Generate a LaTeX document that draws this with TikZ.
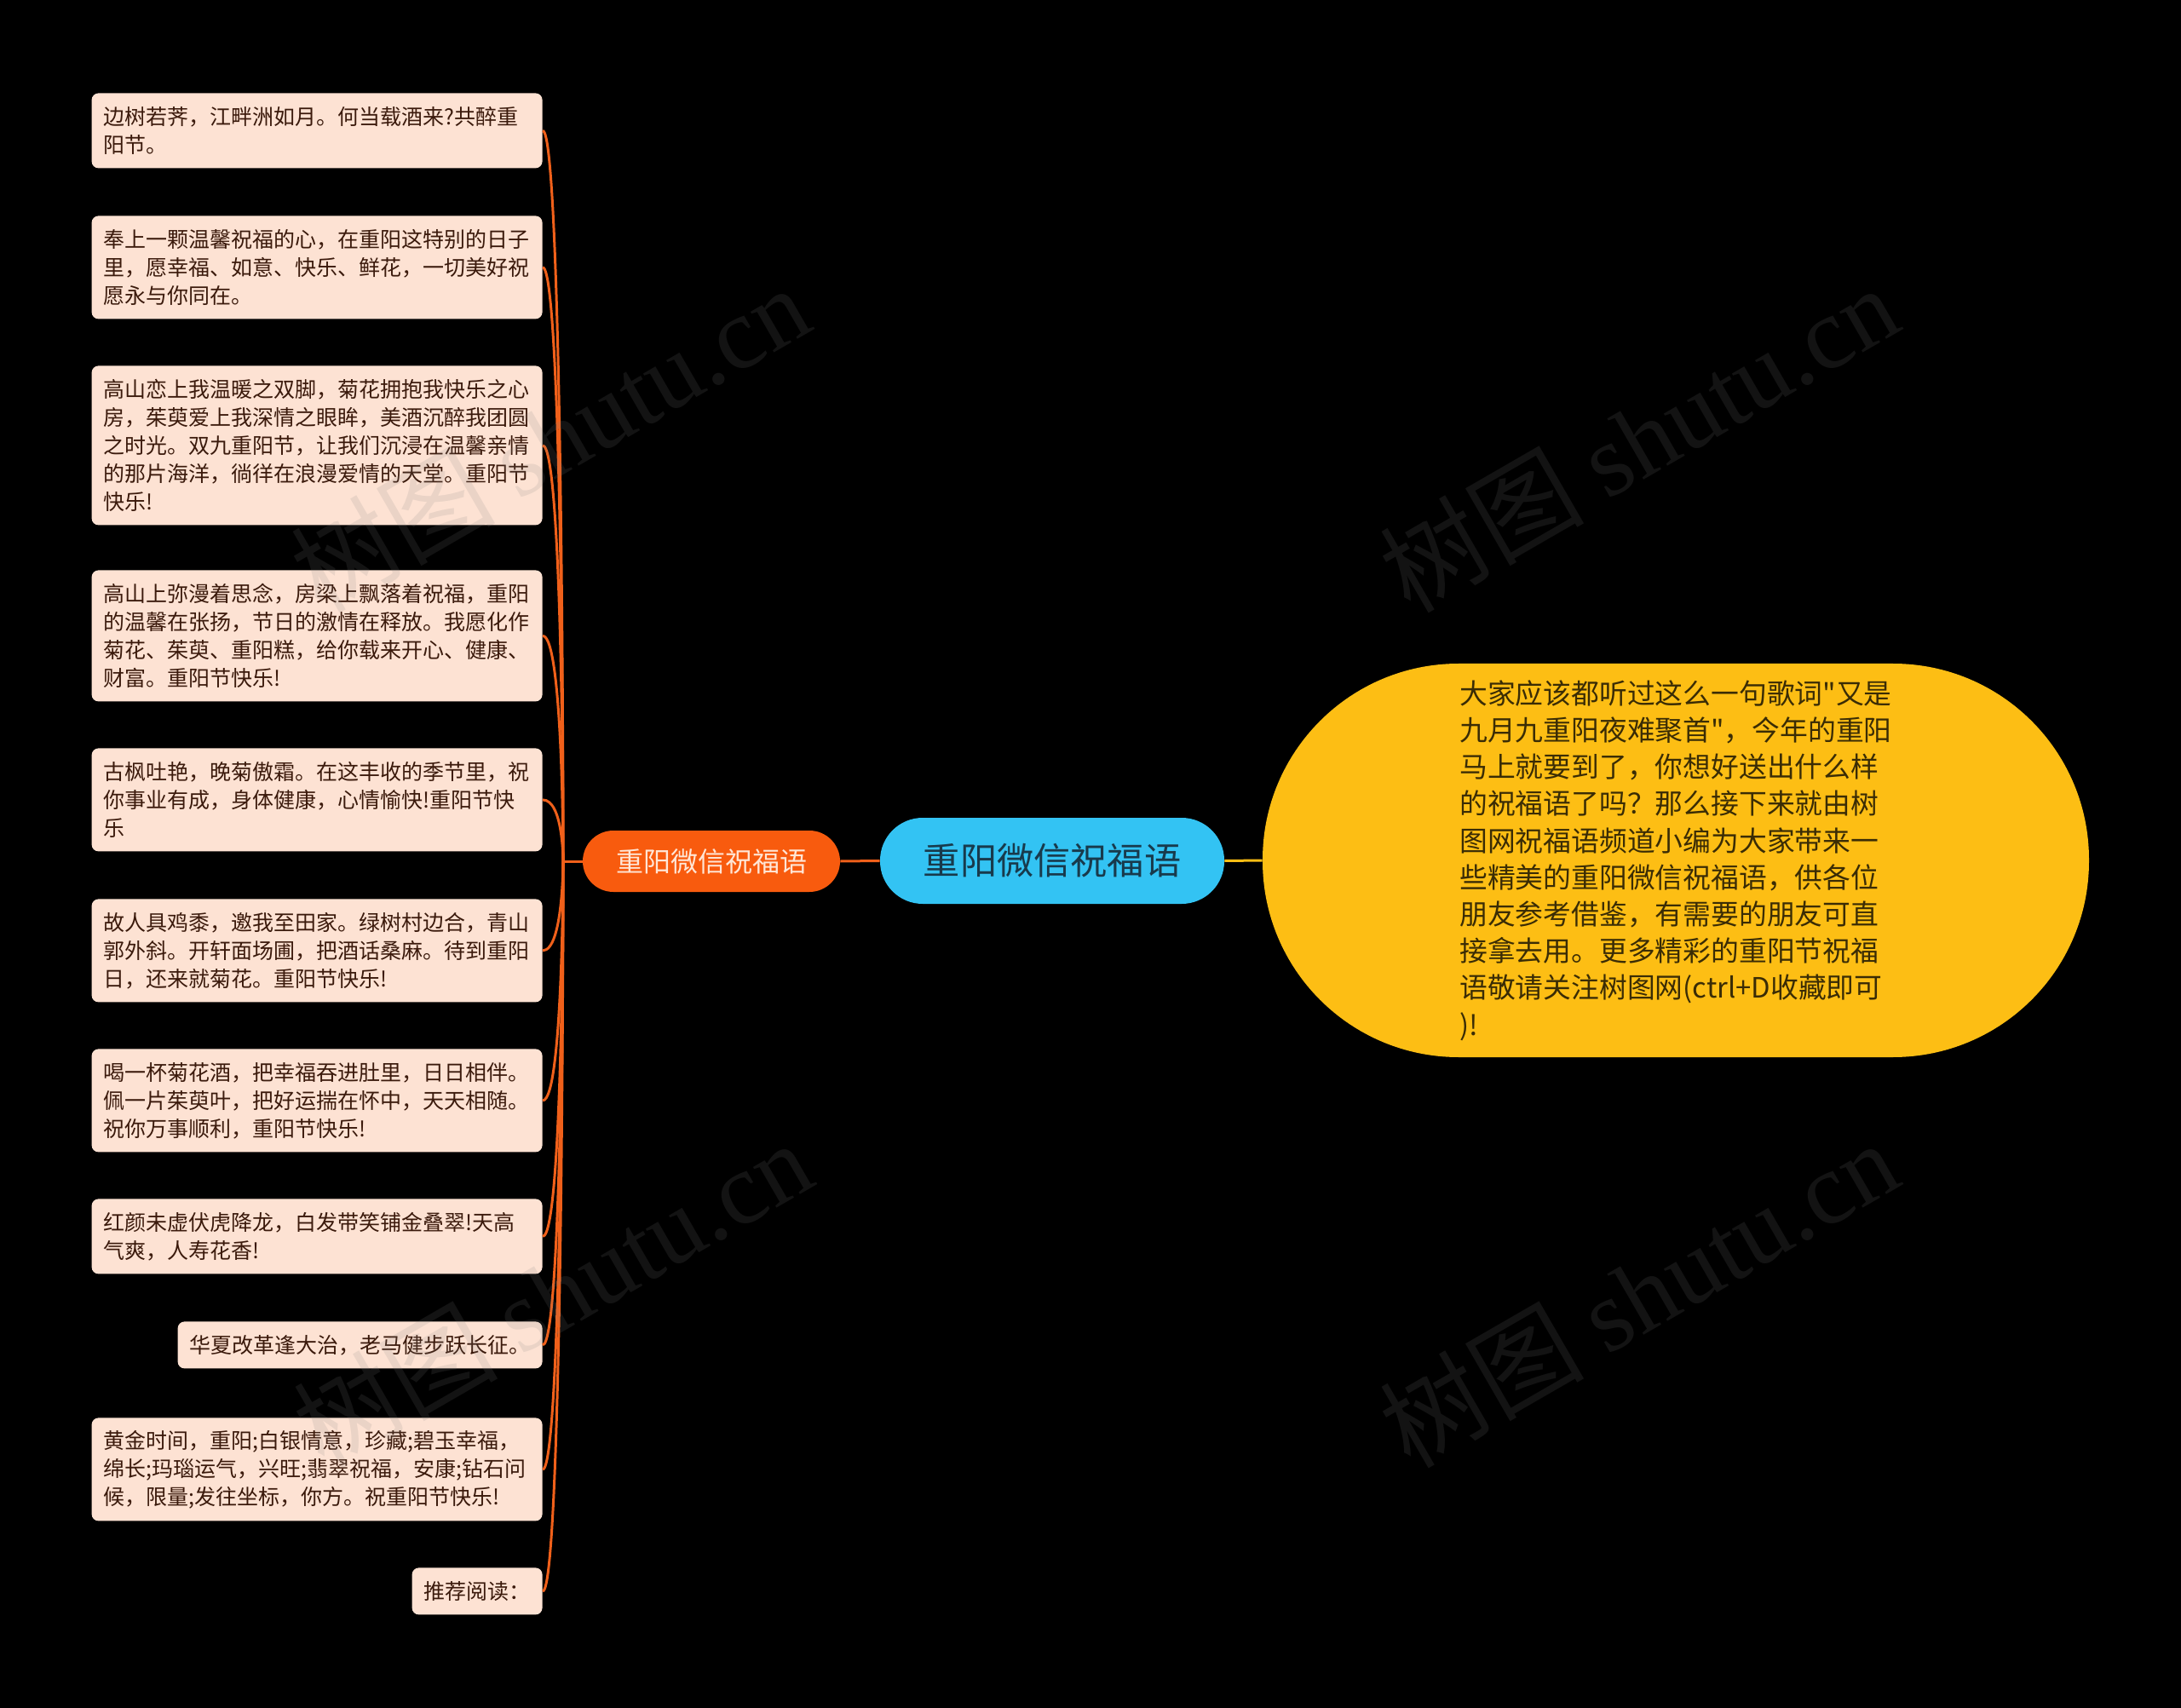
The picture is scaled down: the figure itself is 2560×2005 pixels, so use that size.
\documentclass[tikz,border=0pt]{standalone}
\usepackage{fontspec}
\setmainfont{Noto Sans CJK SC}
\newfontfamily\plaincjk{Noto Sans CJK SC}
\newfontfamily\wmfont{Liberation Serif}

\definecolor{leaffill}{HTML}{FDE2D3}
\definecolor{leaftext}{HTML}{3B1A0C}
\definecolor{linkorange}{HTML}{F0601A}
\definecolor{branchfill}{HTML}{F85B0E}
\definecolor{branchtext}{HTML}{FFE6D6}
\definecolor{rootfill}{HTML}{33C3F3}
\definecolor{roottext}{HTML}{183A4C}
\definecolor{introfill}{HTML}{FDBE14}
\definecolor{introtext}{HTML}{3A2C05}

\begin{document}
\begin{tikzpicture}[x=0.5pt, y=-0.5pt,
  leaf/.style={fill=leaffill, text=leaftext, rounded corners=4pt, anchor=north east,
    inner xsep=7pt, inner ysep=3pt, align=left,
    font=\fontsize{12.5pt}{16.5pt}\selectfont, minimum height=11pt+16.5pt*#1},
  wide/.style={text width=250.5pt},
  branch/.style={fill=branchfill, text=branchtext, rounded corners=18pt,
    minimum width=151pt, minimum height=36pt, font=\fontsize{16pt}{19pt}\selectfont},
  root/.style={fill=rootfill, text=roottext, rounded corners=25pt,
    minimum width=202pt, minimum height=50.5pt, font=\fontsize{21.6pt}{26pt}\selectfont},
  intro/.style={fill=introfill, text=introtext, rounded corners=115pt,
    minimum width=485pt, minimum height=231pt, align=left,
    font=\plaincjk\fontsize{16.4pt}{21.6pt}\selectfont},
  link/.style={draw=linkorange, line width=1.5pt},
  introlink/.style={draw=introfill, line width=1.5pt},
  wm/.style={text=white!50!black, text opacity=0.15, rotate=30,
    font=\fontsize{60pt}{60pt}\selectfont}]
  % fond
  \fill[black] (0,0) rectangle (2560,2005);

  % centre
  \node[root] (root) at (1235,1010.5) {重阳微信祝福语};
  \node[branch] (branch) at (835,1011) {重阳微信祝福语};
  \node[intro] (intro) at (1967,1010) {大家应该都听过这么一句歌词"又是\\九月九重阳夜难聚首"，今年的重阳\\马上就要到了，你想好送出什么样\\的祝福语了吗？那么接下来就由树\\图网祝福语频道小编为大家带来一\\些精美的重阳微信祝福语，供各位\\朋友参考借鉴，有需要的朋友可直\\接拿去用。更多精彩的重阳节祝福\\语敬请关注树图网(ctrl+D收藏即可\\)!};

  %祝福语
  \node[leaf=2, wide] (l1) at (637,109) {边树若荠，江畔洲如月。何当载酒来?共醉重\\阳节。};
  \node[leaf=3, wide] (l2) at (637,253) {奉上一颗温馨祝福的心，在重阳这特别的日子\\里，愿幸福、如意、快乐、鲜花，一切美好祝\\愿永与你同在。};
  \node[leaf=5, wide] (l3) at (637,429) {高山恋上我温暖之双脚，菊花拥抱我快乐之心\\房，茱萸爱上我深情之眼眸，美酒沉醉我团圆\\之时光。双九重阳节，让我们沉浸在温馨亲情\\的那片海洋，徜徉在浪漫爱情的天堂。重阳节\\快乐!};
  \node[leaf=4, wide] (l4) at (637,669) {高山上弥漫着思念，房梁上飘落着祝福，重阳\\的温馨在张扬，节日的激情在释放。我愿化作\\菊花、茱萸、重阳糕，给你载来开心、健康、\\财富。重阳节快乐!};
  \node[leaf=3, wide] (l5) at (637,878) {古枫吐艳，晚菊傲霜。在这丰收的季节里，祝\\你事业有成，身体健康，心情愉快!重阳节快\\乐};
  \node[leaf=3, wide] (l6) at (637,1055) {故人具鸡黍，邀我至田家。绿树村边合，青山\\郭外斜。开轩面场圃，把酒话桑麻。待到重阳\\日，还来就菊花。重阳节快乐!};
  \node[leaf=3, wide] (l7) at (637,1231) {喝一杯菊花酒，把幸福吞进肚里，日日相伴。\\佩一片茱萸叶，把好运揣在怀中，天天相随。\\祝你万事顺利，重阳节快乐!};
  \node[leaf=2, wide] (l8) at (637,1407) {红颜未虚伏虎降龙，白发带笑铺金叠翠!天高\\气爽，人寿花香!};
  \node[leaf=1] (l9) at (637,1551) {华夏改革逢大治，老马健步跃长征。};
  \node[leaf=3, wide] (l10) at (637,1664) {黄金时间，重阳;白银情意，珍藏;碧玉幸福，\\绵长;玛瑙运气，兴旺;翡翠祝福，安康;钻石问\\候，限量;发往坐标，你方。祝重阳节快乐!};
  \node[leaf=1] (l11) at (637,1840) {推荐阅读：};

  % spojnice
  \coordinate (j) at (661,1011);
  \draw[introlink] (root.east) -- (intro.west);
  \draw[link] (root.west) -- (branch.east);
  \draw[link] (branch.west) -- (j);
  \foreach \i in {1,...,11}
    \draw[link] (j) .. controls (j) and (j |- l\i.east) .. (l\i.east);

  % vodoznak
  \node[wm] (wm1) at (645,514) {树图 {\wmfont shutu.cn}};
  \node[wm] (wm2) at (1923,514) {树图 {\wmfont shutu.cn}};
  \node[wm] (wm3) at (648,1518) {树图 {\wmfont shutu.cn}};
  \node[wm] (wm4) at (1923,1518) {树图 {\wmfont shutu.cn}};
\end{tikzpicture}
\end{document}
